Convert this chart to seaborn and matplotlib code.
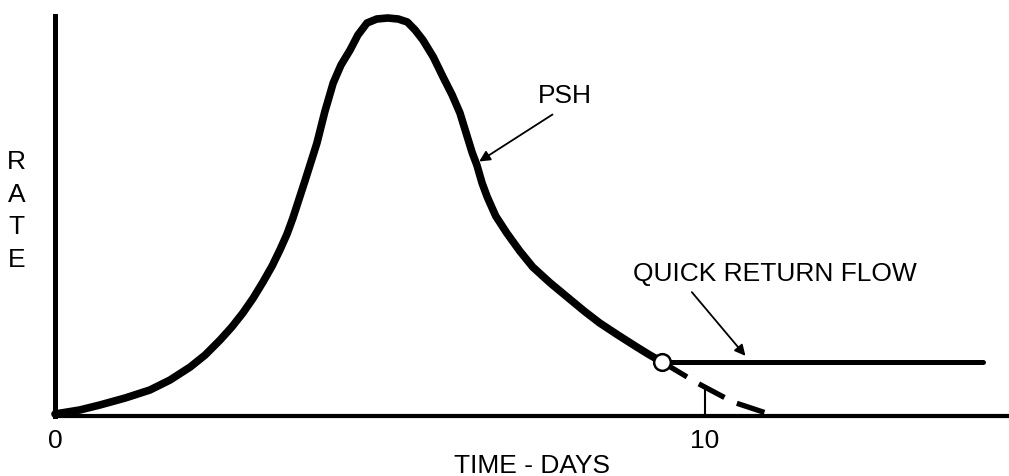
import matplotlib
matplotlib.use("Agg")
import matplotlib.pyplot as plt
import seaborn as sns

# PSH hydrograph (time in days, rate in arbitrary units)
psh_days = [0.0, 0.38, 0.69, 1.08, 1.46, 1.77, 2.08, 2.31, 2.54, 2.72, 2.89, 3.05,
            3.2, 3.34, 3.46, 3.57, 3.66, 3.85, 4.03, 4.15, 4.28, 4.4, 4.54, 4.66,
            4.8, 4.95, 5.12, 5.28, 5.42, 5.54, 5.66, 5.82, 5.97, 6.11, 6.23, 6.32,
            6.42, 6.49, 6.57, 6.65, 6.78, 6.95, 7.15, 7.35, 7.62, 7.88, 8.14, 8.38,
            8.66, 8.95, 9.15, 9.34]
psh_rate = [0.5, 1.5, 2.75, 4.5, 6.5, 9.0, 12.25, 15.25, 19.0, 22.25, 25.75, 29.5,
            33.5, 37.5, 41.5, 45.5, 49.5, 59.0, 68.25, 76.0, 83.25, 87.75, 91.5, 95.25,
            98.25, 99.25, 99.5, 99.25, 98.5, 96.5, 94.0, 89.75, 84.75, 80.25, 75.75, 71.0,
            65.75, 62.75, 58.25, 54.75, 50.0, 45.75, 41.25, 37.25, 33.25, 29.75, 26.25, 23.25,
            20.25, 17.25, 15.25, 13.5]

# recession continued past the split point (dashed)
tail_days = [9.34, 9.88, 10.43, 11.08]
tail_rate = [13.5, 8.25, 3.5, 0.0]

# quick return flow (constant)
qrf_days = [9.34, 14.28]
qrf_rate = [13.5, 13.5]

tick_days = [0, 10]
tick_labels = ["0", "10"]

sns.set_style("white")
plt.rcParams['font.family'] = ['Liberation Sans', 'DejaVu Sans']
plt.rcParams['text.color'] = 'black'
plt.rcParams['axes.labelcolor'] = 'black'
plt.rcParams['xtick.color'] = 'black'
fs = 19

fig = plt.figure(figsize=(10.09, 4.76), dpi=100)
ax = fig.add_axes([55 / 1009, 60 / 476, 954 / 1009, 400 / 476])

sns.lineplot(x=psh_days, y=psh_rate, sort=False, estimator=None, color="black",
             lw=5.5, ax=ax, clip_on=False, solid_capstyle="round", solid_joinstyle="round")
sns.lineplot(x=qrf_days, y=qrf_rate, sort=False, estimator=None, color="black",
             lw=3.6, ax=ax)
ax.plot(tail_days, tail_rate, color="black", lw=3.8, dashes=(5.5, 2.6), clip_on=False)
ax.plot([10, 10], [0, 7], color="black", lw=1.5)
ax.plot(psh_days[-1], psh_rate[-1], "o", ms=12, mfc="white", mec="black", mew=1.8, zorder=5)

ax.set_xlim(0, 954 / 65)
ax.set_ylim(0, 100)

for side in ["top", "right"]:
    ax.spines[side].set_visible(False)
ax.spines["left"].set_linewidth(3.6)
ax.spines["bottom"].set_linewidth(3.0)
ax.spines["left"].set_color("black")
ax.spines["bottom"].set_color("black")

ax.set_xticks(tick_days)
ax.set_xticklabels(tick_labels)
ax.set_yticks([])
ax.tick_params(axis="x", length=0, pad=9, labelsize=fs, labelcolor="black")
ax.set_xlabel("TIME - DAYS", fontsize=fs, labelpad=1)

ax.text(-0.04, 0.5125, "R\nA\nT\nE", transform=ax.transAxes, ha="center", va="center",
        fontsize=fs, linespacing=1.45)

# labels with pointer arrows
ax.text(7.85, 80, "PSH", fontsize=fs, ha="center", va="center")
ax.annotate("", xy=(6.49, 63.25), xytext=(7.69, 75.75),
            arrowprops=dict(arrowstyle="-|>", color="black", lw=1.3, mutation_scale=16))
ax.text(8.89, 35.5, "QUICK RETURN FLOW", fontsize=fs, ha="left", va="center")
ax.annotate("", xy=(10.65, 14.5), xytext=(9.77, 31.5),
            arrowprops=dict(arrowstyle="-|>", color="black", lw=1.3, mutation_scale=16))

fig.savefig("out.png", dpi=100)
